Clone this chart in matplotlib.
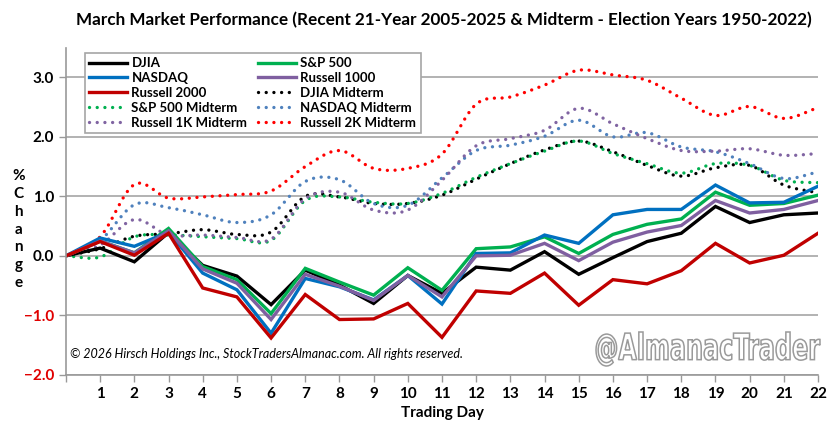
import numpy as np
import matplotlib
matplotlib.use("Agg")
import matplotlib.pyplot as plt
from matplotlib.textpath import TextPath
from matplotlib.patches import PathPatch
from matplotlib.font_manager import FontProperties
from matplotlib.transforms import Affine2D, IdentityTransform

plt.rcParams['font.family'] = ['Lato', 'DejaVu Sans']

days = list(range(23))
day_labels = [str(d) for d in range(1, 23)]

djia = [0, 0.13, -0.10, 0.39, -0.16, -0.34, -0.82, -0.24, -0.49, -0.80, -0.33, -0.63,
        -0.19, -0.24, 0.07, -0.31, -0.03, 0.24, 0.38, 0.83, 0.56, 0.69, 0.72]
sp500 = [0, 0.25, 0.05, 0.46, -0.18, -0.40, -0.97, -0.21, -0.44, -0.66, -0.20, -0.58,
         0.12, 0.15, 0.32, 0.04, 0.36, 0.53, 0.62, 1.07, 0.85, 0.88, 1.02]
nasdaq = [0, 0.30, 0.16, 0.40, -0.29, -0.57, -1.30, -0.38, -0.52, -0.74, -0.33, -0.81,
          0.04, 0.05, 0.35, 0.21, 0.69, 0.78, 0.78, 1.19, 0.89, 0.90, 1.17]
r1000 = [0, 0.25, 0.05, 0.42, -0.22, -0.46, -1.07, -0.31, -0.51, -0.75, -0.33, -0.69,
         0.00, 0.01, 0.21, -0.08, 0.23, 0.40, 0.51, 0.93, 0.72, 0.78, 0.93]
r2000 = [0, 0.24, 0.01, 0.38, -0.54, -0.69, -1.38, -0.65, -1.07, -1.06, -0.80, -1.37,
         -0.59, -0.63, -0.29, -0.83, -0.40, -0.47, -0.25, 0.21, -0.12, 0.01, 0.38]

djia_mid = [0, 0.12, 0.33, 0.37, 0.44, 0.36, 0.40, 1.00, 0.99, 0.88, 0.88, 1.02,
            1.29, 1.55, 1.78, 1.93, 1.75, 1.52, 1.34, 1.48, 1.52, 1.19, 1.06]
sp_mid = [0, -0.02, 0.32, 0.35, 0.32, 0.29, 0.26, 0.93, 0.99, 0.90, 0.88, 1.05,
          1.32, 1.55, 1.76, 1.93, 1.72, 1.55, 1.39, 1.55, 1.52, 1.27, 1.23]
nasdaq_mid = [0, 0.26, 0.86, 0.81, 0.69, 0.56, 0.69, 1.25, 1.28, 0.88, 0.85, 1.31,
              1.77, 1.86, 2.01, 2.28, 2.00, 2.07, 1.83, 1.75, 1.55, 1.30, 1.41]
r1k_mid = [0, 0.18, 0.61, 0.35, 0.35, 0.31, 0.28, 0.96, 1.07, 0.77, 0.77, 1.27,
           1.85, 1.97, 2.11, 2.48, 2.22, 1.97, 1.77, 1.76, 1.80, 1.69, 1.72]
r2k_mid = [0, 0.32, 1.20, 0.97, 0.99, 1.03, 1.09, 1.50, 1.77, 1.47, 1.47, 1.71,
           2.55, 2.67, 2.87, 3.12, 3.04, 2.95, 2.65, 2.36, 2.51, 2.31, 2.49]

solid = [("DJIA", djia, "#000000"), ("S&P 500", sp500, "#00B050"),
         ("NASDAQ", nasdaq, "#0070C0"), ("Russell 1000", r1000, "#7F5FA0"),
         ("Russell 2000", r2000, "#C00000")]
dotted = [("DJIA Midterm", djia_mid, "#000000"), ("S&P 500 Midterm", sp_mid, "#00B050"),
          ("NASDAQ Midterm", nasdaq_mid, "#4F81BD"), ("Russell 1K Midterm", r1k_mid, "#8064A2"),
          ("Russell 2K Midterm", r2k_mid, "#FF0000")]


def smooth(x, y, n=12):
    # catmull-rom curve through the points, like excel's smoothed line
    x = np.asarray(x, float)
    y = np.asarray(y, float)
    xp = np.concatenate([[2 * x[0] - x[1]], x, [2 * x[-1] - x[-2]]])
    yp = np.concatenate([[2 * y[0] - y[1]], y, [2 * y[-1] - y[-2]]])
    t = np.linspace(0, 1, n, endpoint=False)
    xs, ys = [], []
    for i in range(1, len(xp) - 2):
        for arr, out in ((xp, xs), (yp, ys)):
            p0, p1, p2, p3 = arr[i - 1:i + 3]
            out.extend(0.5 * (2 * p1 + (-p0 + p2) * t + (2 * p0 - 5 * p1 + 4 * p2 - p3) * t ** 2
                              + (-p0 + 3 * p1 - 3 * p2 + p3) * t ** 3))
    xs.append(x[-1])
    ys.append(y[-1])
    return xs, ys


fig = plt.figure(figsize=(8.33, 4.25), dpi=100)
ax = fig.add_axes([0.0792, 0.118, 0.9028, 0.770])

handles = {}
for name, vals, col in dotted:
    xs, ys = smooth(days, vals)
    h, = ax.plot(xs, ys, color=col, lw=2.4, linestyle=(0, (0.01, 2.3)),
                 dash_capstyle='round', label=name)
    handles[name] = h
for name, vals, col in solid:
    h, = ax.plot(days, vals, color=col, lw=2.4, label=name, solid_joinstyle='miter')
    handles[name] = h

ax.set_xlim(0, 22)
ax.set_ylim(-2, 3.5)
ax.set_yticks([-2, -1, 0, 1, 2, 3])
ax.set_yticklabels(["\u22122.0", "\u22121.0", "0.0", "1.0", "2.0", "3.0"])
for lab in ax.get_yticklabels()[:2]:
    lab.set_color("#E00000")
ax.set_xticks(days)
ax.set_xticklabels([""] + day_labels)
ax.tick_params(axis='both', labelsize=11, color="#999999", length=5, width=1)
for lab in ax.get_xticklabels() + ax.get_yticklabels():
    lab.set_fontweight('bold')
ax.grid(axis='y', color="#A6A6A6", lw=1.2)
ax.set_axisbelow(True)
for s in ("top", "right"):
    ax.spines[s].set_visible(False)
for s in ("left", "bottom"):
    ax.spines[s].set_color("#999999")
    ax.spines[s].set_linewidth(1.2)

order = ["DJIA", "NASDAQ", "Russell 2000", "S&P 500 Midterm", "Russell 1K Midterm",
         "S&P 500", "Russell 1000", "DJIA Midterm", "NASDAQ Midterm", "Russell 2K Midterm"]
leg = ax.legend([handles[k] for k in order], order, ncol=2, loc='upper left',
                bbox_to_anchor=(0.016, 1.005), fancybox=False, framealpha=1,
                edgecolor="#A6A6A6", prop={'weight': 'bold', 'size': 9.5},
                handlelength=2.9, handletextpad=0.3, columnspacing=0.8,
                labelspacing=0.22, borderpad=0.35)
leg.get_frame().set_linewidth(1.2)

fig.text(0.533, 0.952, "March Market Performance (Recent 21-Year 2005-2025 & Midterm - Election Years 1950-2022)",
         ha='center', va='center', fontsize=12.3, fontweight='bold')
fig.text(0.022, 0.46, "%\nC\nh\na\nn\ng\ne", ha='center', va='center', fontsize=11,
         fontweight='bold', linespacing=1.35)
ax.set_xlabel("Trading Day", fontsize=11, fontweight='bold', labelpad=4)

ax.text(0.006, 0.045, "\u00a9 2026 Hirsch Holdings Inc., StockTradersAlmanac.com. All rights reserved.",
        transform=ax.transAxes, fontsize=9, style='italic', ha='left', va='bottom')

# outlined, narrow watermark in the lower right corner
tp = TextPath((0, 0), "@AlmanacTrader", size=40,
              prop=FontProperties(family='DejaVu Sans', weight='bold'))
bb = tp.get_extents()
sx = 224 / bb.width
sy = 34 / bb.height
tr = Affine2D().translate(-bb.x0, -bb.y0).scale(sx, sy).translate(596, 425 - 366)
fig.add_artist(PathPatch(tp, transform=tr + IdentityTransform(), facecolor='white',
                         edgecolor="#9A9A9A", lw=1.1, zorder=5))

fig.savefig("out.png", dpi=100)
